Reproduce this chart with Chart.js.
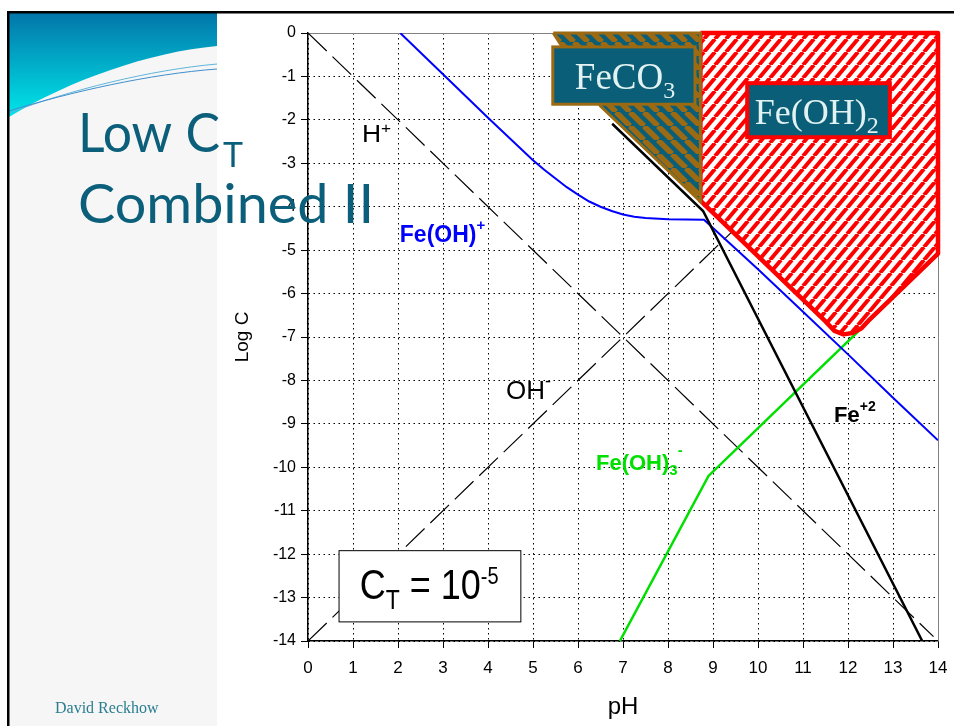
<!DOCTYPE html>
<html>
<head>
<meta charset="utf-8">
<script src="https://cdn.jsdelivr.net/npm/chart.js@4.4.1/dist/chart.umd.min.js"></script>
<style>
  html, body { margin: 0; padding: 0; background: #fff; }
  #chart { display: block; }
</style>
</head>
<body>
<canvas id="chart" width="954" height="726"></canvas>
<script>
// species lines, [pH, log C]
const hPlus = [[0, 0], [13.9, -13.9]];
const ohMinus = [[0, -14], [14, 0]];
const feOHPlus = [[2.05, 0], [3, -0.95], [4, -1.95], [5, -2.93], [5.25, -3.15], [5.5, -3.35], [5.75, -3.55],
  [6, -3.72], [6.25, -3.88], [6.5, -4.0], [6.75, -4.1], [7, -4.18], [7.25, -4.23], [7.5, -4.26], [8, -4.29],
  [8.8, -4.3], [10, -5.44], [11, -6.42], [12, -7.4], [13, -8.4], [14, -9.38]];
const fe2 = [[6.76, -2.09], [8.78, -4.1], [13.65, -14]];
const feOH3Minus = [[6.93, -14], [8.9, -10.2], [14, -5.1]];

// solid phase regions
const feco3Region = [[5.45, 0], [8.72, 0], [8.72, -3.88], [6.5, -1.68], [5.45, 0]];
const feOH2Region = [[8.72, 0], [14, 0], [14, -5.08], [12.45, -6.63], [12.3, -6.8], [12.1, -6.91],
  [11.9, -6.94], [11.7, -6.86], [11.5, -6.64], [8.72, -3.86], [8.72, 0]];

const sans = "'Liberation Sans', Arial, sans-serif";
const serif = "'Liberation Serif', 'Times New Roman', serif";
const teal = '#0a5e78';

const canvas = document.getElementById('chart');
const mainCtx = canvas.getContext('2d');

function stripes(bg, fg, w, h, lw, dir) {
  const c = document.createElement('canvas');
  c.width = w; c.height = h;
  const g = c.getContext('2d');
  g.fillStyle = bg; g.fillRect(0, 0, w, h);
  g.strokeStyle = fg; g.lineWidth = lw;
  g.beginPath();
  for (const dx of [-w, 0, w]) {
    if (dir > 0) { g.moveTo(dx, h); g.lineTo(dx + w, 0); }
    else { g.moveTo(dx, 0); g.lineTo(dx + w, h); }
  }
  g.stroke();
  return mainCtx.createPattern(c, 'repeat');
}
const redHatch = stripes('#ffffff', '#ff0000', 11, 13, 4, 1);
const brownHatch = stripes(teal, '#9b6a12', 14, 14, 5.5, -1);

const toXY = pts => pts.map(([x, y]) => ({ x, y }));

function richText(ctx, x, y, parts, color, sx = 1, sy = 1) {
  ctx.save();
  ctx.translate(x, y);
  ctx.scale(sx, sy);
  ctx.fillStyle = color;
  ctx.textAlign = 'left';
  ctx.textBaseline = 'alphabetic';
  let cx = 0;
  for (const [t, font, dy] of parts) {
    ctx.font = font;
    ctx.fillText(t, cx, dy / sy);
    cx += ctx.measureText(t).width;
  }
  ctx.restore();
}

function box(ctx, x1, y1, x2, y2, fill, stroke, lw) {
  ctx.save();
  ctx.fillStyle = fill;
  ctx.fillRect(x1, y1, x2 - x1, y2 - y1);
  ctx.strokeStyle = stroke;
  ctx.lineWidth = lw;
  ctx.strokeRect(x1, y1, x2 - x1, y2 - y1);
  ctx.restore();
}

function fitText(ctx, text, font, x, y, width, color) {
  ctx.save();
  ctx.font = font;
  const w = ctx.measureText(text).width;
  ctx.translate(x, y);
  ctx.scale(width / w, 1);
  ctx.fillStyle = color;
  ctx.textBaseline = 'alphabetic';
  ctx.fillText(text, 0, 0);
  ctx.restore();
}

// slide background, swoosh and frame
const slide = {
  id: 'slide',
  beforeDraw(chart) {
    const ctx = chart.ctx;
    ctx.save();
    ctx.fillStyle = '#fff';
    ctx.fillRect(0, 0, 954, 726);
    ctx.fillStyle = '#f6f6f6';
    ctx.fillRect(9, 13, 208, 713);
    const g = ctx.createLinearGradient(0, 13, 0, 117);
    g.addColorStop(0, '#0276a9');
    g.addColorStop(1, '#00e6ea');
    ctx.fillStyle = g;
    ctx.beginPath();
    ctx.moveTo(9, 13);
    ctx.lineTo(217, 13);
    ctx.lineTo(217, 46);
    ctx.bezierCurveTo(150, 52, 70, 80, 9, 117);
    ctx.closePath();
    ctx.fill();
    ctx.lineWidth = 1;
    ctx.strokeStyle = '#5fb6dc';
    ctx.beginPath(); ctx.moveTo(9, 113); ctx.bezierCurveTo(70, 90, 150, 70, 217, 64); ctx.stroke();
    ctx.strokeStyle = '#3f8fd0';
    ctx.beginPath(); ctx.moveTo(9, 111); ctx.bezierCurveTo(70, 92, 150, 74, 217, 69); ctx.stroke();
    ctx.fillStyle = '#000';
    ctx.fillRect(7, 11, 947, 2.5);
    ctx.fillRect(7, 11, 2.5, 715);
    ctx.restore();
  },
  beforeDatasetsDraw(chart) {
    const { ctx, chartArea: a } = chart;
    ctx.save();
    ctx.strokeStyle = '#808080';
    ctx.lineWidth = 1;
    ctx.beginPath();
    ctx.moveTo(a.left, a.top + 0.5);
    ctx.lineTo(a.right + 0.5, a.top + 0.5);
    ctx.lineTo(a.right + 0.5, a.bottom);
    ctx.stroke();
    ctx.restore();
  }
};

// species labels and boxes
const annotations = {
  id: 'annotations',
  afterDatasetsDraw(chart) {
    const { ctx, scales: { x, y } } = chart;
    const px = v => x.getPixelForValue(v);
    const py = v => y.getPixelForValue(v);

    box(ctx, px(5.44), py(-0.32), px(8.6), py(-1.64), teal, '#9b6a12', 3);
    richText(ctx, px(5.93), py(-1.29), [['FeCO', '37px ' + serif, 0], ['3', '24px ' + serif, 9]], '#e2f2f2');

    box(ctx, px(9.76), py(-1.155), px(12.93), py(-2.4), teal, '#ff0000', 4);
    richText(ctx, px(9.93), py(-2.1), [['Fe(OH)', '36px ' + serif, 0], ['2', '24px ' + serif, 9]], '#e2f2f2');

    box(ctx, px(0.69), py(-11.92), px(4.73), py(-13.56), '#fff', '#000', 1);
    richText(ctx, px(1.15), py(-13.03), [['C', '36px ' + sans, 0], ['T', '23px ' + sans, 10],
      [' = 10', '36px ' + sans, 0], ['-5', '20px ' + sans, -15]], '#000', 1, 1.2);

    richText(ctx, px(1.2), py(-2.52), [['H', '23px ' + sans, 0], ['+', '15px ' + sans, -9]], '#000', 1.15, 1);
    richText(ctx, px(4.4), py(-8.43), [['OH', '26px ' + sans, 0], ['-', '18px ' + sans, -12]], '#000');
    richText(ctx, px(2.04), py(-4.82), [['Fe(OH)', 'bold 23px ' + sans, 0], ['+', 'bold 15px ' + sans, -12]], '#0000ff');
    richText(ctx, px(6.4), py(-10.06), [['Fe(OH)', 'bold 22px ' + sans, 0], ['3', 'bold 15px ' + sans, 5],
      ['-', 'bold 15px ' + sans, -15]], '#00e000');
    richText(ctx, px(11.69), py(-8.96), [['Fe', 'bold 22px ' + sans, 0], ['+2', 'bold 14px ' + sans, -11]], '#000');
  },
  afterDraw(chart) {
    const ctx = chart.ctx;
    const tFont = "Lato, 'Open Sans', sans-serif";
    fitText(ctx, 'Low C', '54px ' + tFont, 78, 152, 142, '#0c5f7a');
    fitText(ctx, 'T', '35px ' + tFont, 223, 167, 20, '#0c5f7a');
    fitText(ctx, 'Combined II', '54px ' + tFont, 78, 223, 296, '#0c5f7a');
    ctx.save();
    ctx.font = '16px ' + serif;
    ctx.fillStyle = '#2b7d90';
    ctx.fillText('David Reckhow', 55, 713);
    ctx.restore();
  }
};

const lineBase = { pointRadius: 0, tension: 0, fill: false };

new Chart(canvas, {
  type: 'line',
  data: {
    datasets: [
      { ...lineBase, label: 'H+', data: toXY(hPlus), borderColor: '#000', borderWidth: 1.2, borderDash: [26, 8], order: 6 },
      { ...lineBase, label: 'OH-', data: toXY(ohMinus), borderColor: '#000', borderWidth: 1.2, borderDash: [26, 8], order: 6 },
      { ...lineBase, label: 'Fe(OH)3-', data: toXY(feOH3Minus), borderColor: '#00e000', borderWidth: 2.5, order: 5 },
      { ...lineBase, label: 'Fe(OH)+', data: toXY(feOHPlus), borderColor: '#0000ff', borderWidth: 2, order: 4 },
      { ...lineBase, label: 'FeCO3', data: toXY(feco3Region), borderColor: '#9b6a12', borderWidth: 3,
        backgroundColor: brownHatch, fill: 'shape', order: 3, clip: false },
      { ...lineBase, label: 'Fe(OH)2', data: toXY(feOH2Region), borderColor: '#ff0000', borderWidth: 4.5,
        backgroundColor: redHatch, fill: 'shape', order: 3, clip: false, borderJoinStyle: 'round' },
      { ...lineBase, label: 'Fe+2', data: toXY(fe2), borderColor: '#000', borderWidth: 2.5, order: 2 }
    ]
  },
  options: {
    responsive: false,
    animation: false,
    events: [],
    layout: { padding: { left: 227, right: 16, top: 33, bottom: 0 } },
    plugins: { legend: { display: false }, tooltip: { enabled: false } },
    scales: {
      x: {
        type: 'linear', min: 0, max: 14,
        afterFit: s => { s.height = 85; s.paddingRight = 0; s.paddingLeft = 0; },
        ticks: { stepSize: 1, maxTicksLimit: 20, autoSkip: false, maxRotation: 0, padding: 10,
          color: '#000', font: { family: sans, size: 17 } },
        grid: { color: '#000', lineWidth: 1, tickLength: 7, tickColor: '#000', tickWidth: 1, tickBorderDash: [] },
        border: { color: '#000', width: 1.5, dash: [1.5, 3.5] },
        title: { display: true, text: 'pH', color: '#000', font: { family: sans, size: 24 } }
      },
      y: {
        type: 'linear', min: -14, max: 0,
        afterFit: s => { s.width = 81; },
        ticks: { stepSize: 1, maxTicksLimit: 20, padding: 5, color: '#000', font: { family: sans, size: 16 } },
        grid: { color: '#000', lineWidth: 1, tickLength: 7, tickColor: '#000', tickWidth: 1, tickBorderDash: [] },
        border: { color: '#000', width: 1.5, dash: [1.5, 3.5] },
        title: { display: true, text: 'Log C', color: '#000', font: { family: sans, size: 19 } }
      }
    }
  },
  plugins: [slide, annotations]
});
</script>
</body>
</html>
